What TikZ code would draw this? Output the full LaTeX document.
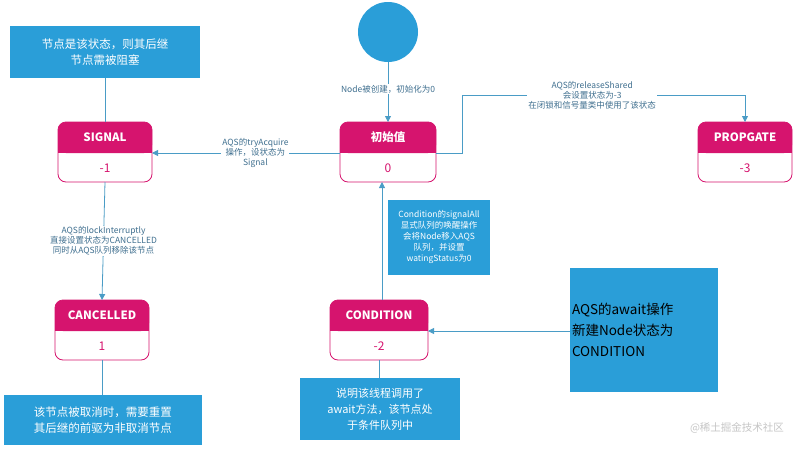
\documentclass[tikz,border=0pt]{standalone}
\usepackage{fontspec}
\setmainfont{Noto Sans CJK SC}
\newfontfamily\cjkmono{Noto Sans CJK SC}
\usetikzlibrary{arrows.meta,positioning}
\definecolor{blu}{HTML}{2A9ED8}
\definecolor{lnk}{HTML}{4A9CC6}
\definecolor{mag}{HTML}{D6146E}
\definecolor{txt}{HTML}{3F6F8F}
\tikzset{
  x=1pt,y=-1pt,
  htxt/.style={text=white,font=\bfseries\fontsize{11.5}{13}\selectfont},
  vtxt/.style={text=mag,font=\fontsize{12}{14}\selectfont},
  callout/.style={fill=blu,text=white,align=center,font=\fontsize{11.5}{16}\selectfont,inner sep=2pt},
  lbl/.style={text=txt,align=center,font=\fontsize{8.5}{10}\selectfont,fill=white,inner sep=1pt},
  conn/.style={draw=lnk,line width=0.8pt},
  arr/.style={conn,-{Triangle[length=6pt,width=6pt]}}
}
\begin{document}
\begin{tikzpicture}
\useasboundingbox (0,0) rectangle (798,453);
\fill[white] (0,0) rectangle (798,453);
% start circle
\fill[blu] (388,32) circle (30);
\coordinate (start) at (388,62);
% states
\foreach \n/\xa/\ya/\xb/\yb/\t/\v in {
  init/340/122/436/182/初始值/0,
  sig/58/122/152/182/SIGNAL/-1,
  prop/698/122/792/182/PROPGATE/-3,
  can/55/300/149/360/CANCELLED/1,
  cond/330/300/428/360/CONDITION/-2}{
  \fill[mag,rounded corners=8pt] (\xa,\ya) rectangle (\xb,\ya+31);
  \fill[mag] (\xa,\ya+20) rectangle (\xb,\ya+31);
  \draw[mag,line width=0.8pt,rounded corners=8pt] (\xa,\ya) rectangle (\xb,\yb);
  \node[htxt] (\n-h) at ({(\xa+\xb)/2},\ya+15) {\t};
  \node[vtxt] (\n-v) at ({(\xa+\xb)/2},\ya+46) {\v};
  \coordinate (\n-t) at ({(\xa+\xb)/2},\ya);
  \coordinate (\n-b) at ({(\xa+\xb)/2},\yb);
  \coordinate (\n-l) at (\xa,\ya+31);
  \coordinate (\n-r) at (\xb,\ya+31);
}
% callouts
\node[callout,minimum width=190pt,minimum height=52pt] (c1) at (105,52) {节点是该状态，则其后继\\节点需被阻塞};
\node[callout,minimum width=198pt,minimum height=50pt] (c2) at (103,420) {该节点被取消时，需要重置\\其后继的前驱为非取消节点};
\node[callout,minimum width=160pt,minimum height=62pt,font=\fontsize{11}{16}\selectfont] (c3) at (380,409) {说明该线程调用了\\await方法，该节点处\\于条件队列中};
\node[fill=blu,text=black,align=left,font=\cjkmono\fontsize{13.5}{21}\selectfont,minimum width=148pt,minimum height=124pt,text width=144pt,inner sep=2pt] (c4) at (644,330) {AQS的await操作\\新建Node状态为\\CONDITION};
\node[callout,font=\fontsize{8.5}{11}\selectfont,minimum width=102pt,minimum height=75pt] (c5) at (439,237) {Condition的signalAll\\显式队列的唤醒操作\\会将Node移入AQS\\队列，并设置\\watingStatus为0};
% connectors
\draw[conn] (sig-t) -- (c1.south -| sig-t);
\draw[conn] (can-b) -- (c2.north -| can-b);
\draw[conn] (cond-b) -- (c3.north -| cond-b);
\draw[arr] (start) -- node[lbl,pos=0.45]{Node被创建，初始化为0} (init-t);
\draw[arr] (init-l) -- node[lbl,pos=0.45]{AQS的tryAcquire\\操作，设状态为\\Signal} (sig-r);
\coordinate (k1) at (462,153); \coordinate (k2) at (462,95); \coordinate (k3) at (745,95);
\draw[arr] (init-r) -- (k1) -- (k2) -- node[lbl,pos=0.46]{AQS的releaseShared\\会设置状态为-3\\在闭锁和信号量类中使用了该状态} (k3) -- (prop-t);
\draw[arr] (sig-b) -- node[lbl,pos=0.5]{AQS的lockInterruptly\\直接设置状态为CANCELLED\\同时从AQS队列移除该节点} (can-t);
\coordinate (cu) at (382,300); \coordinate (cd) at (382,182);
\draw[arr] (cu) -- (cd);
\draw[arr] (c4.west |- cond-r) -- (cond-r);
% watermark
\node[text=gray!45,font=\fontsize{10.5}{12}\selectfont] (wm) at (737,428) {@稀土掘金技术社区};
\end{tikzpicture}
\end{document}
